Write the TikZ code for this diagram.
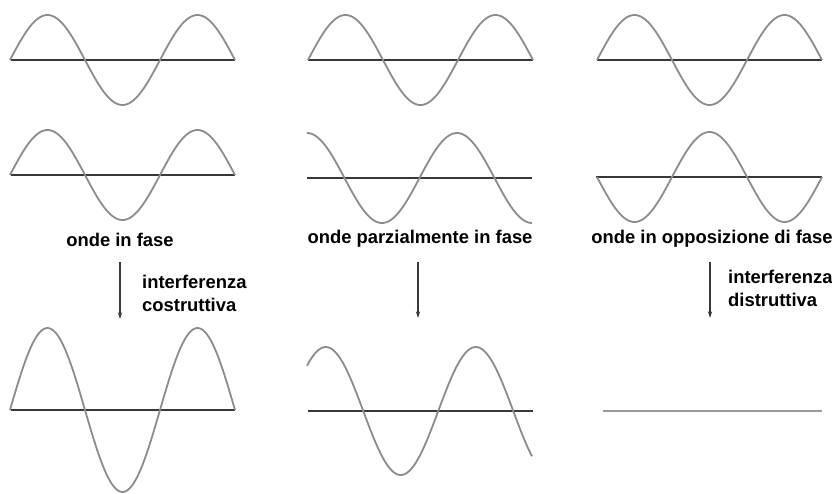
\documentclass[tikz,border=0pt]{standalone}
\usepackage{fontspec}
\setmainfont{Liberation Sans}
\usetikzlibrary{arrows.meta}
\definecolor{Wave}{HTML}{8C8C8C}
\definecolor{Axis}{HTML}{383838}
\definecolor{Flat}{HTML}{9A9A9A}
\tikzset{wave/.style={draw=Wave,line width=1.8pt},axis/.style={draw=Axis,line width=2.2pt},flow/.style={-{Stealth[length=2.4mm,width=1.5mm]},line width=1.2pt,draw=Axis},caption/.style={font=\fontsize{18.4}{23}\selectfont\bfseries,inner sep=0pt,text=black},note/.style={caption,align=left,anchor=west}}

\begin{document}
\begin{tikzpicture}[x=1pt,y=-1pt]
\useasboundingbox (0,0) rectangle (832,493);
% onde in fase
\draw[axis] (11,60) -- (235,60);
\draw[wave] plot[domain=0:225,samples=120] ({10+\x},{60-45*sin(2.4*\x)});
\draw[axis] (11,175) -- (235,175);
\draw[wave] plot[domain=0:225,samples=120] ({10+\x},{175-45*sin(2.4*\x)});
\node[caption] (fase) at (120,240) {onde in fase};
\coordinate (f1) at (120,262);
\coordinate (f2) at (120,319);
\draw[flow] (f1) -- (f2);
\node[note] (costr) at (142,293.5) {interferenza\\costruttiva};
\draw[axis] (11,410) -- (235,410);
\draw[wave] plot[domain=0:225,samples=120] ({10+\x},{410-82*sin(2.4*\x)});
% onde parzialmente in fase
\draw[axis] (308,60) -- (533,60);
\draw[wave] plot[domain=0:225,samples=120] ({308+\x},{60-45*sin(2.4*\x)});
\draw[axis] (307,178) -- (532,178);
\draw[wave] plot[domain=0:225,samples=120] ({307+\x},{178-45*cos(2.4*\x)});
\node[caption] (parz) at (420,239) {onde parzialmente in fase};
\coordinate (p1) at (418,262);
\coordinate (p2) at (418,318);
\draw[flow] (p1) -- (p2);
\draw[axis] (308,411) -- (533,411);
\draw[wave] plot[domain=0:225,samples=120] ({307+\x},{411-64*sin(2.4*\x+45)});
% onde in opposizione di fase
\draw[axis] (597,60) -- (822,60);
\draw[wave] plot[domain=0:225,samples=120] ({597+\x},{60-45*sin(2.4*\x)});
\draw[axis] (596,177) -- (822,177);
\draw[wave] plot[domain=0:225,samples=120] ({597+\x},{177+45*sin(2.4*\x)});
\node[caption] (opp) at (712,239) {onde in opposizione di fase};
\coordinate (o1) at (710,262);
\coordinate (o2) at (710,318);
\draw[flow] (o1) -- (o2);
\node[note] (distr) at (728,288.5) {interferenza\\distruttiva};
\draw[draw=Flat,line width=2pt] (603,411) -- (822,411);
\end{tikzpicture}
\end{document}
